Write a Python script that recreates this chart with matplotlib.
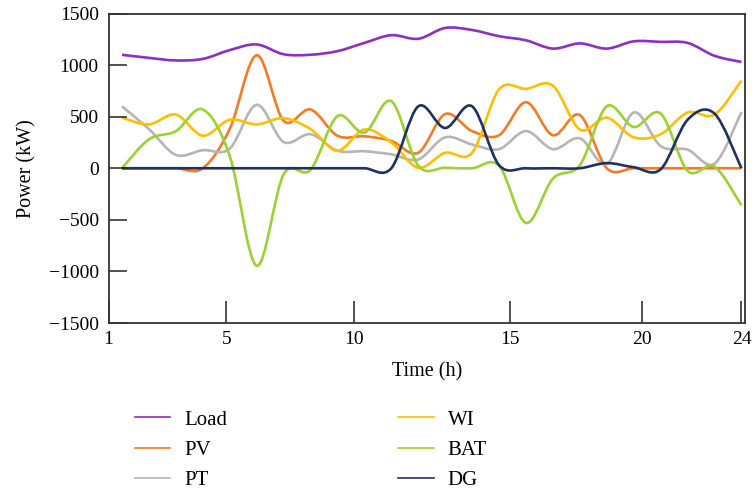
import numpy as np
import matplotlib
matplotlib.use('Agg')
import matplotlib.pyplot as plt
from matplotlib.path import Path
from matplotlib.patches import PathPatch

# hourly data
hours = list(range(1, 25))
load = [1100, 1070, 1045, 1060, 1145, 1200, 1105, 1100, 1135, 1215, 1290, 1255,
        1360, 1340, 1280, 1240, 1160, 1210, 1160, 1230, 1225, 1215, 1090, 1030]
pv = [0, 0, 0, 0, 380, 1095, 460, 570, 315, 310, 265, 150,
      525, 360, 320, 640, 320, 515, 0, 0, 0, 0, 0, 0]
pt = [600, 380, 130, 175, 190, 615, 255, 330, 170, 165, 135, 85,
      300, 230, 185, 360, 185, 290, 40, 540, 215, 180, 45, 545]
wi = [490, 425, 520, 315, 470, 425, 485, 380, 170, 375, 250, 5,
      150, 150, 765, 770, 800, 375, 490, 300, 330, 540, 520, 850]
bat = [0, 280, 360, 570, 120, -945, -60, -15, 505, 345, 650, 25,
       5, 0, 25, -530, -100, 30, 600, 400, 530, -25, 15, -360]
dg = [0, 0, 0, 0, 0, 0, 0, 0, 0, 0, 0, 600,
      390, 600, 30, 0, 0, 0, 50, 10, -10, 470, 530, 0]

names = ['Load', 'PV', 'PT', 'WI', 'BAT', 'DG']
series = [load, pv, pt, wi, bat, dg]
colors = ['#8e2ec6', '#f47b24', '#b5b5b5', '#ffbf00', '#9bd232', '#1f3161']

tick_pos = [0.5, 4.87, 9.62, 15.39, 20.29, 24.0]
tick_lab = ['1', '5', '10', '15', '20', '24']

plt.rcParams['font.family'] = ['Liberation Serif', 'DejaVu Serif']


def smooth_path(x, y):
    # Catmull-Rom through the points, as cubic Bezier segments
    pts = np.column_stack([x, y]).astype(float)
    ext = np.vstack([pts[0], pts, pts[-1]])
    verts = [pts[0]]
    codes = [Path.MOVETO]
    for i in range(len(pts) - 1):
        p0, p1, p2, p3 = ext[i], ext[i + 1], ext[i + 2], ext[i + 3]
        verts += [p1 + (p2 - p0) / 6, p2 - (p3 - p1) / 6, p2]
        codes += [Path.CURVE4] * 3
    return Path(verts, codes)


fig = plt.figure(figsize=(7.52, 4.94), dpi=100)
ax = fig.add_axes([108.5 / 752, 1 - 323 / 494, (745.5 - 108.5) / 752, (323 - 13.5) / 494])

for name, vals, c in zip(names, series, colors):
    ax.add_patch(PathPatch(smooth_path(hours, vals), fill=False, edgecolor=c, lw=1.9))
    ax.plot([], [], color=c, lw=1.2, label=name)

ax.set_xlim(0.5, 24.15)
ax.set_ylim(-1500, 1500)
ax.set_xticks(tick_pos)
ax.set_xticklabels(tick_lab)
ax.set_yticks(range(-1500, 1501, 500))
ax.tick_params(direction='in', labelsize=14, width=1.1, color='#222222')
ax.tick_params(axis='x', length=16, pad=6)
ax.tick_params(axis='y', length=13, pad=7)
for s in ax.spines.values():
    s.set_linewidth(1.3)
    s.set_color('#333333')
ax.set_xlabel('Time (h)', fontsize=14.5, labelpad=10)
ax.set_ylabel('Power (kW)', fontsize=14.5, labelpad=9)

fig.legend(loc='upper left', bbox_to_anchor=(135 / 752, 1 - 410 / 494), ncol=2,
           frameon=False, fontsize=15, borderpad=0, borderaxespad=0,
           handlelength=1.7, handletextpad=0.67, columnspacing=8.2, labelspacing=0.52)

fig.savefig('out.png', dpi=100)
